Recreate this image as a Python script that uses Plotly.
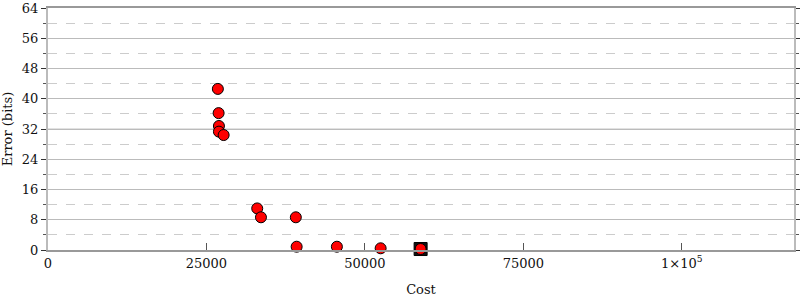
import plotly.graph_objects as go

cost = [26800, 26920, 26970, 26970, 27710, 33010, 33600, 39100, 39230, 45580, 52480, 58790]
error_bits = [42.6, 36.2, 32.8, 31.3, 30.4, 11.0, 8.65, 8.65, 0.87, 0.87, 0.45, 0.26]
best_cost = [58790]
best_error = [0.26]

x_tickvals = [0, 25000, 50000, 75000, 100000]
x_ticktext = ["0", "25000", "50000", "75000", "1×10<sup>5</sup>"]

fig = go.Figure()
fig.add_trace(go.Scatter(x=best_cost, y=best_error, mode="markers",
                         marker=dict(symbol="square", size=13, color="#111", line=dict(width=1, color="#000")),
                         showlegend=False, cliponaxis=False))
fig.add_trace(go.Scatter(x=cost, y=error_bits, mode="markers",
                         marker=dict(symbol="circle", size=11, color="#ff0000", line=dict(width=1, color="#000")),
                         showlegend=False, cliponaxis=False))

fig.add_shape(type="line", xref="paper", yref="y", x0=0, x1=1, y0=32, y1=32,
              line=dict(color="#e2e2e2", width=2), layer="between")

fig.update_layout(
    width=800, height=300,
    margin=dict(l=48, r=6, t=8, b=50),
    paper_bgcolor="white", plot_bgcolor="white",
    font=dict(family="DejaVu Serif", size=13, color="#111"),
    xaxis=dict(range=[0, 117700], tickvals=x_tickvals, ticktext=x_ticktext,
               ticks="inside", ticklen=7, tickcolor="#555", tickwidth=1,
               showgrid=False, zeroline=False, automargin=False,
               showline=True, linecolor="#999", linewidth=2, mirror=True,
               tickfont=dict(size=13, color="#111"),
               title=dict(text="Cost", font=dict(size=13, color="#111"))),
    yaxis=dict(range=[0, 64], tick0=0, dtick=8, ticks="outside", ticklen=5, tickcolor="#333",
               showgrid=True, gridcolor="#bbb", gridwidth=1, zeroline=False, automargin=False,
               showline=True, linecolor="#bbb", linewidth=2, mirror="ticks",
               tickfont=dict(size=13, color="#111"),
               minor=dict(dtick=4, tick0=0, showgrid=True, griddash="dash", gridcolor="#ccc",
                          ticks="outside", ticklen=3, tickcolor="#555"),
               title=dict(text="Error (bits)", font=dict(size=13, color="#111"))),
)

fig.write_html("out.html")
